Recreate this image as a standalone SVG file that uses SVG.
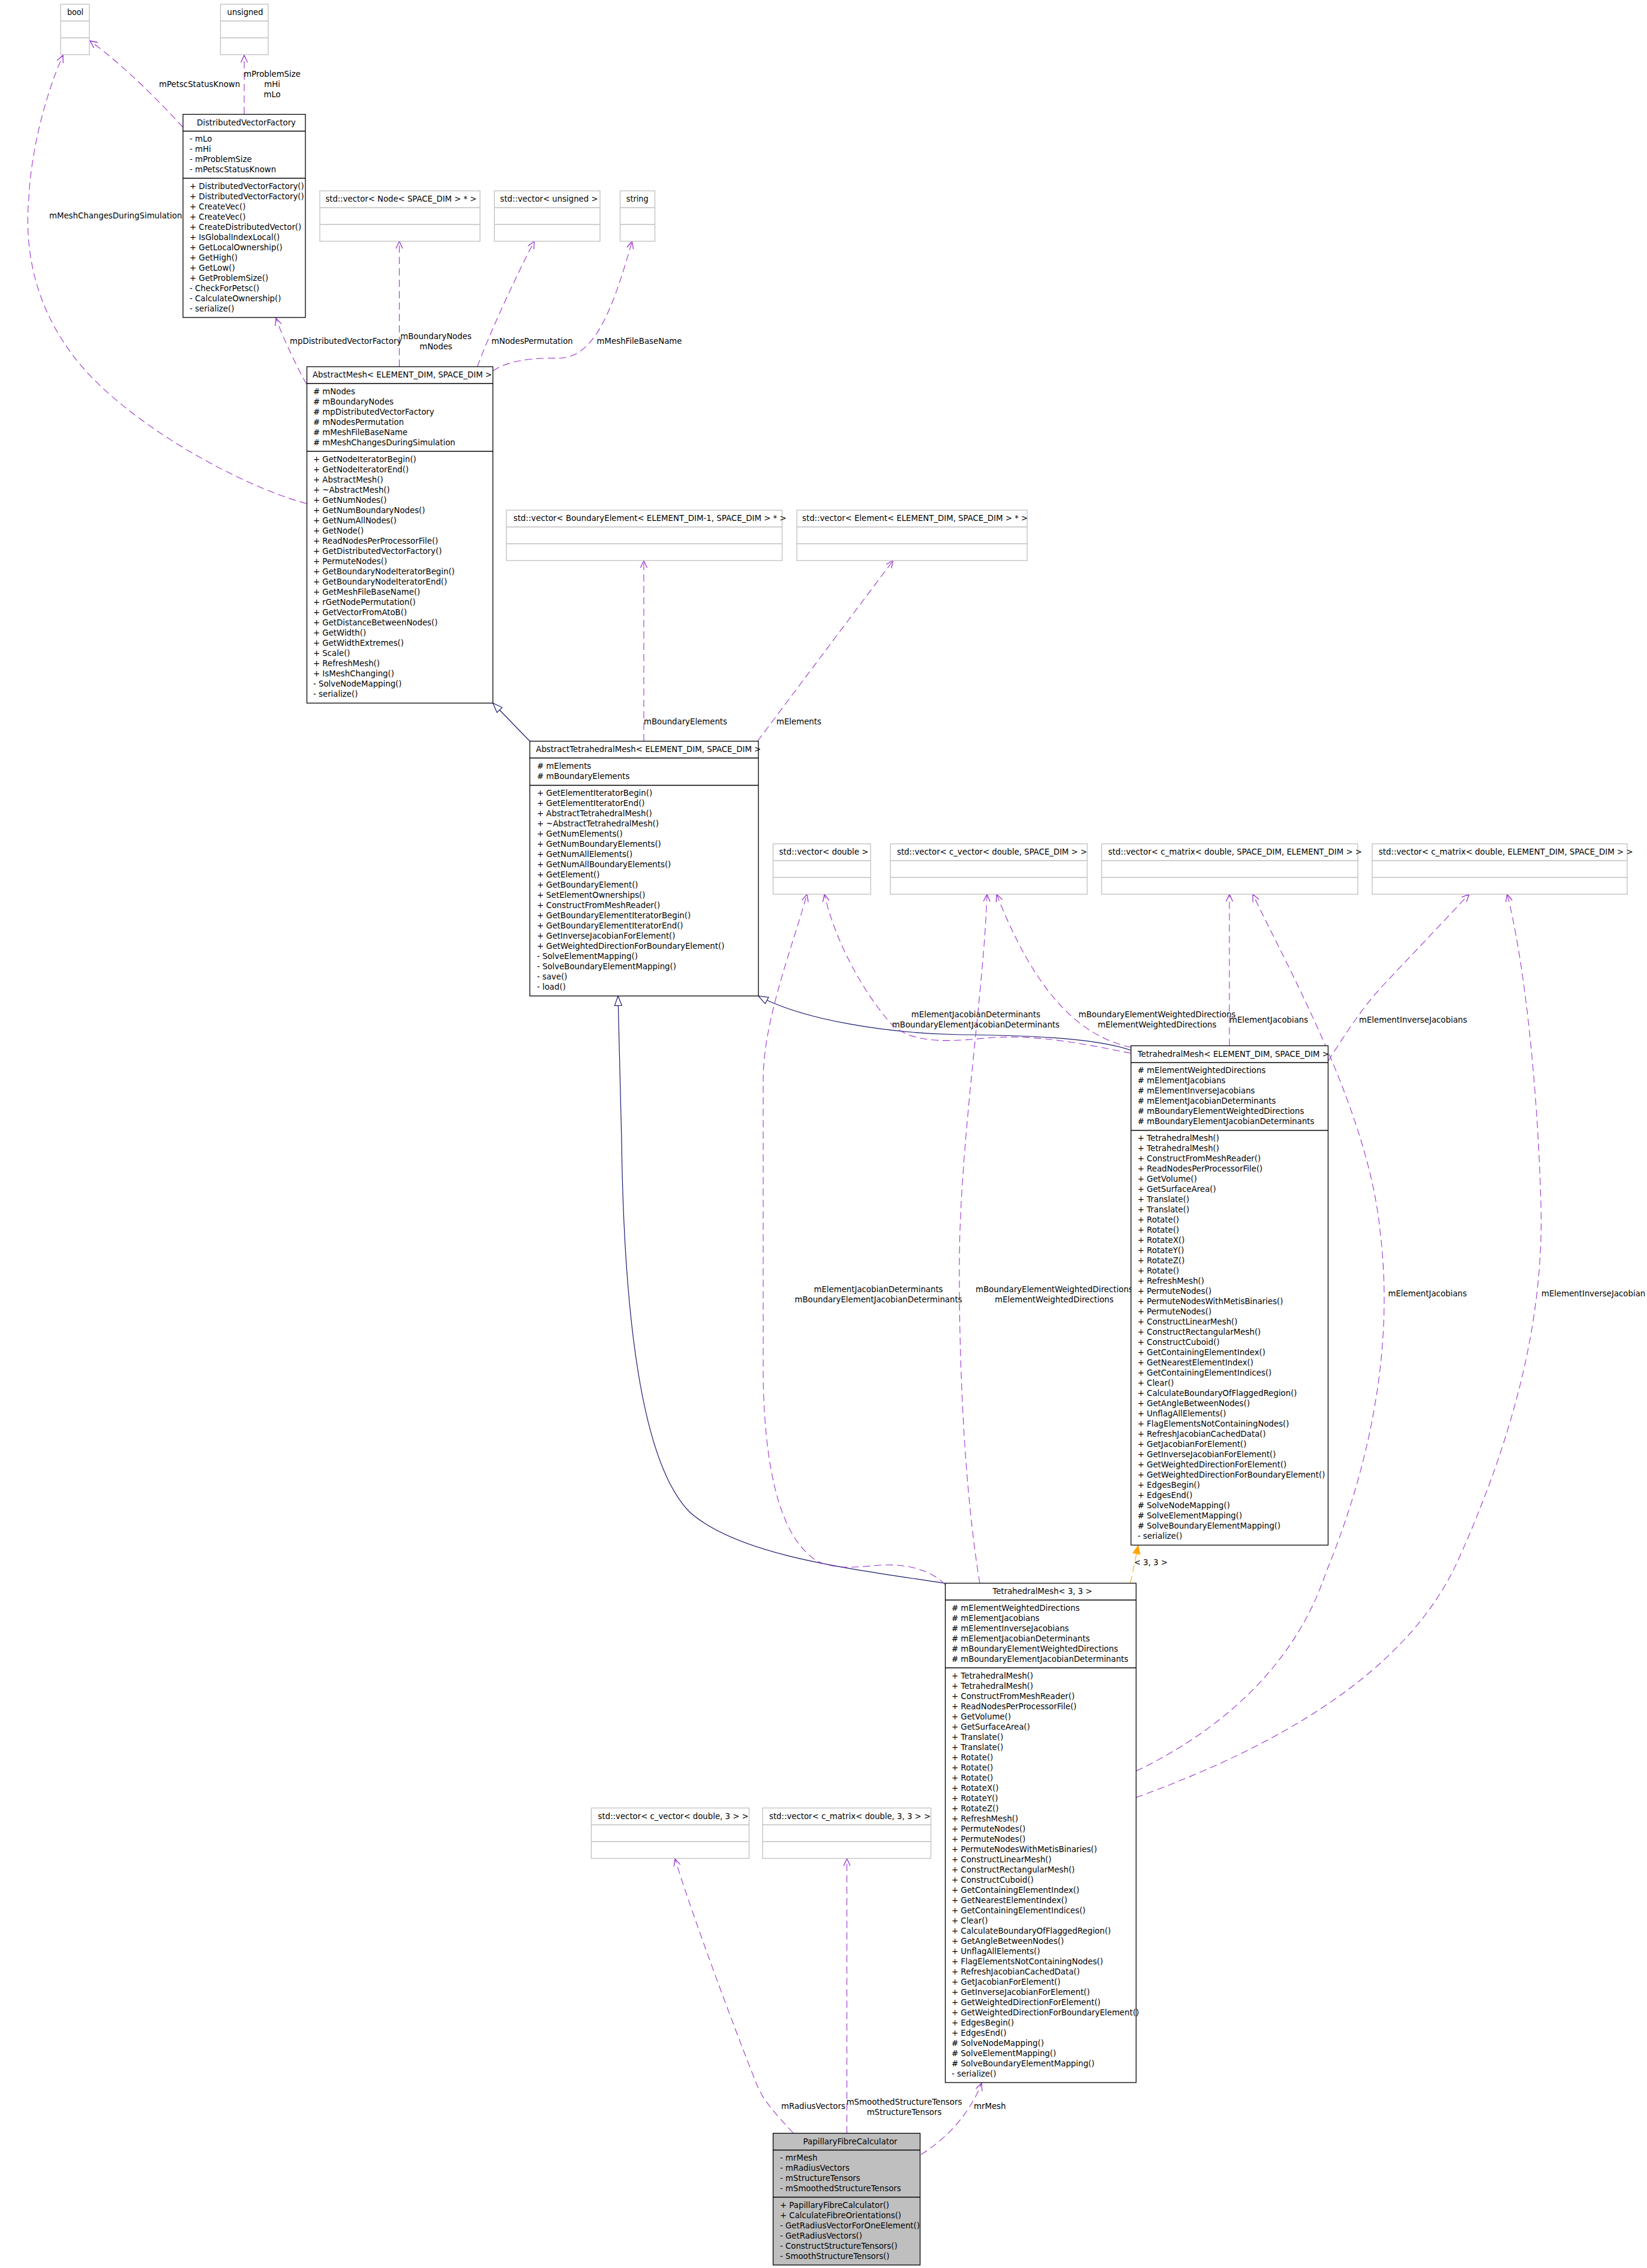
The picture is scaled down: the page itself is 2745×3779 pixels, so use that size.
<svg xmlns="http://www.w3.org/2000/svg" width="2745" height="3779" viewBox="0 0 2745 3779">
<style>
.t{font-family:"DejaVu Sans","Liberation Sans",sans-serif;font-size:13.3px;fill:#000}
.c{text-anchor:middle}
.box{fill:#fff;stroke:#000;stroke-width:1.3}
.gbox{fill:#fff;stroke:#bfbfbf;stroke-width:1.3}
.sep{stroke:#000;stroke-width:1.3}
.gsep{stroke:#bfbfbf;stroke-width:1.3}
.e{fill:none;stroke:#9a32cd;stroke-width:1.1;stroke-dasharray:12,7;marker-end:url(#av)}
.g{fill:none;stroke:#191970;stroke-width:1.2;marker-end:url(#ag)}
.o{fill:none;stroke:#ffa500;stroke-width:1.1;stroke-dasharray:12,7;marker-end:url(#ao)}
.pfc{fill:#bfbfbf;stroke:#000;stroke-width:1.3}
</style>
<defs>
<marker id="av" viewBox="0 0 14 14" refX="13" refY="7" markerWidth="14" markerHeight="14" markerUnits="userSpaceOnUse" orient="auto"><path d="M1,1.5 L13,7 L1,12.5" fill="none" stroke="#9a32cd" stroke-width="1.3"/></marker>
<marker id="ag" viewBox="0 0 18 14" refX="17" refY="7" markerWidth="18" markerHeight="14" markerUnits="userSpaceOnUse" orient="auto"><path d="M1,1 L17,7 L1,13 Z" fill="#fff" stroke="#191970" stroke-width="1.2"/></marker>
<marker id="ao" viewBox="0 0 16 14" refX="15" refY="7" markerWidth="16" markerHeight="14" markerUnits="userSpaceOnUse" orient="auto"><path d="M1,1 L15,7 L1,13 Z" fill="#ffa500" stroke="#ffa500" stroke-width="1"/></marker>
</defs>
<rect width="2745" height="3779" fill="#fff"/>

<g id="connectors">
<path class="e" d="M305,212 C275,180 220,120 150,68"/>
<path class="e" d="M407,190 L407,92"/>
<path class="e" d="M511,839 C400,810 200,700 120,590 C60,510 40,420 48,330 C52,250 75,160 105,92"/>
<path class="e" d="M511,640 C500,622 470,560 460,530"/>
<path class="e" d="M665.5,611 L665.5,402"/>
<path class="e" d="M795.5,611 C820,545 870,440 890.5,402"/>
<path class="e" d="M821.5,618 C850,598 900,596 930,597 C990,597 1020,520 1053.5,402"/>
<path class="e" d="M1073,1235 L1073,934"/>
<path class="e" d="M1262.5,1235 L1488.5,934"/>
<path class="g" d="M883,1235 L821.5,1171.5"/>
<path class="g" d="M1885,1750 C1820,1728 1700,1725 1600,1724 C1480,1722 1340,1700 1264,1659.5"/>
<path class="g" d="M1575,2638 C1400,2612 1230,2590 1150,2520 C1070,2440 1040,2200 1036,1900 L1030,1659.5"/>
<path class="o" d="M1884,2638 L1897,2575"/>
<path class="e" d="M1885,1755 C1800,1738 1720,1722 1640,1730 C1560,1738 1510,1735 1480,1700 C1430,1640 1390,1560 1374,1490"/>
<path class="e" d="M1575,2640 C1550,2615 1510,2605 1466,2608 C1420,2612 1390,2615 1360,2600 C1300,2560 1275,2450 1272,2300 L1272,1800 C1272,1700 1320,1580 1345,1490"/>
<path class="e" d="M1633,2638 C1610,2500 1598,2300 1599,2100 C1600,1900 1640,1650 1645,1490"/>
<path class="e" d="M1885,1745 C1790,1725 1720,1640 1661,1490"/>
<path class="e" d="M2049,1742.5 L2049,1490"/>
<path class="e" d="M1893.5,2951 C2000,2900 2150,2800 2210,2620 C2280,2450 2325,2250 2300,2050 C2280,1850 2150,1620 2088,1490"/>
<path class="e" d="M2213.5,1768 C2235,1735 2265,1685 2304,1643 L2448.5,1490"/>
<path class="e" d="M1893.5,2995 C2100,2920 2340,2800 2430,2600 C2520,2400 2575,2200 2568,2000 C2562,1800 2540,1600 2512,1490"/>
<path class="e" d="M1322,3554 C1295,3525 1272,3500 1262,3475 C1220,3370 1150,3180 1125,3097"/>
<path class="e" d="M1411.5,3554.5 L1411.5,3097"/>
<path class="e" d="M1535,3590 C1575,3565 1615,3525 1636,3471"/>
</g>

<g id="labels">
<text class="t" x="265" y="144.5">mPetscStatusKnown</text>
<text class="t c" x="453.6" y="127.5">mProblemSize<tspan x="453.6" dy="17">mHi</tspan><tspan x="453.6" dy="17">mLo</tspan></text>
<text class="t" x="82" y="363.5">mMeshChangesDuringSimulation</text>
<text class="t" x="483" y="572.5">mpDistributedVectorFactory</text>
<text class="t c" x="726.5" y="565">mBoundaryNodes<tspan x="726.5" dy="17">mNodes</tspan></text>
<text class="t" x="819" y="572.5">mNodesPermutation</text>
<text class="t" x="994.6" y="572.5">mMeshFileBaseName</text>
<text class="t" x="1073" y="1207">mBoundaryElements</text>
<text class="t" x="1294" y="1207">mElements</text>
<text class="t c" x="1626.4" y="1695">mElementJacobianDeterminants<tspan x="1626.4" dy="17">mBoundaryElementJacobianDeterminants</tspan></text>
<text class="t c" x="1928.5" y="1695">mBoundaryElementWeightedDirections<tspan x="1928.5" dy="17">mElementWeightedDirections</tspan></text>
<text class="t" x="2049" y="1704">mElementJacobians</text>
<text class="t" x="2265" y="1704">mElementInverseJacobians</text>
<text class="t c" x="1464" y="2152.5">mElementJacobianDeterminants<tspan x="1464" dy="17">mBoundaryElementJacobianDeterminants</tspan></text>
<text class="t c" x="1757" y="2152.5">mBoundaryElementWeightedDirections<tspan x="1757" dy="17">mElementWeightedDirections</tspan></text>
<text class="t" x="2313.5" y="2160">mElementJacobians</text>
<text class="t" x="2569" y="2160">mElementInverseJacobian</text>
<text class="t" x="1890" y="2608">&lt; 3, 3 &gt;</text>
<text class="t" x="1302" y="3514">mRadiusVectors</text>
<text class="t c" x="1507" y="3507">mSmoothedStructureTensors<tspan x="1507" dy="17">mStructureTensors</tspan></text>
<text class="t" x="1623" y="3514">mrMesh</text>
</g>

<g id="node-bool">
<rect class="gbox" x="101" y="7" width="48" height="84"/>
<line class="gsep" x1="101" y1="35" x2="149" y2="35"/><line class="gsep" x1="101" y1="63" x2="149" y2="63"/>
<text class="t" x="112" y="25" textLength="27" lengthAdjust="spacingAndGlyphs">bool</text>
</g>
<g id="node-unsigned">
<rect class="gbox" x="367.5" y="7" width="79.5" height="84"/>
<line class="gsep" x1="367.5" y1="35" x2="447" y2="35"/><line class="gsep" x1="367.5" y1="63" x2="447" y2="63"/>
<text class="t" x="378.6" y="25" textLength="60" lengthAdjust="spacingAndGlyphs">unsigned</text>
</g>
<g id="node-DistributedVectorFactory">
<rect class="box" x="305" y="190.5" width="204" height="338.5"/>
<line class="sep" x1="305" y1="218.5" x2="509" y2="218.5"/><line class="sep" x1="305" y1="297" x2="509" y2="297"/>
<text class="t" x="328" y="208.5" textLength="165" lengthAdjust="spacingAndGlyphs">DistributedVectorFactory</text>
<text class="t" x="316" y="236">- mLo<tspan x="316" dy="17">- mHi</tspan><tspan x="316" dy="17">- mProblemSize</tspan><tspan x="316" dy="17">- mPetscStatusKnown</tspan></text>
<text class="t" x="316" y="314.5">+ DistributedVectorFactory()<tspan x="316" dy="17">+ DistributedVectorFactory()</tspan><tspan x="316" dy="17">+ CreateVec()</tspan><tspan x="316" dy="17">+ CreateVec()</tspan><tspan x="316" dy="17">+ CreateDistributedVector()</tspan><tspan x="316" dy="17">+ IsGlobalIndexLocal()</tspan><tspan x="316" dy="17">+ GetLocalOwnership()</tspan><tspan x="316" dy="17">+ GetHigh()</tspan><tspan x="316" dy="17">+ GetLow()</tspan><tspan x="316" dy="17">+ GetProblemSize()</tspan><tspan x="316" dy="17">- CheckForPetsc()</tspan><tspan x="316" dy="17">- CalculateOwnership()</tspan><tspan x="316" dy="17">- serialize()</tspan></text>
</g>
<g id="node-vector-node">
<rect class="gbox" x="533" y="318" width="267" height="84"/>
<line class="gsep" x1="533" y1="346" x2="800" y2="346"/><line class="gsep" x1="533" y1="374" x2="800" y2="374"/>
<text class="t" x="542.4" y="336" textLength="252" lengthAdjust="spacingAndGlyphs">std::vector&lt; Node&lt; SPACE_DIM &gt; * &gt;</text>
</g>
<g id="node-vector-unsigned">
<rect class="gbox" x="824" y="318" width="176" height="84"/>
<line class="gsep" x1="824" y1="346" x2="1000" y2="346"/><line class="gsep" x1="824" y1="374" x2="1000" y2="374"/>
<text class="t" x="833.5" y="336" textLength="163" lengthAdjust="spacingAndGlyphs">std::vector&lt; unsigned &gt;</text>
</g>
<g id="node-string">
<rect class="gbox" x="1033.5" y="318" width="58" height="84"/>
<line class="gsep" x1="1033.5" y1="346" x2="1091.5" y2="346"/><line class="gsep" x1="1033.5" y1="374" x2="1091.5" y2="374"/>
<text class="t" x="1043.7" y="336" textLength="37" lengthAdjust="spacingAndGlyphs">string</text>
</g>
<g id="node-AbstractMesh">
<rect class="box" x="511.5" y="611" width="310" height="560.5"/>
<line class="sep" x1="511.5" y1="639" x2="821.5" y2="639"/><line class="sep" x1="511.5" y1="752" x2="821.5" y2="752"/>
<text class="t" x="521" y="629" textLength="299" lengthAdjust="spacingAndGlyphs">AbstractMesh&lt; ELEMENT_DIM, SPACE_DIM &gt;</text>
<text class="t" x="522" y="656.5"># mNodes<tspan x="522" dy="17"># mBoundaryNodes</tspan><tspan x="522" dy="17"># mpDistributedVectorFactory</tspan><tspan x="522" dy="17"># mNodesPermutation</tspan><tspan x="522" dy="17"># mMeshFileBaseName</tspan><tspan x="522" dy="17"># mMeshChangesDuringSimulation</tspan></text>
<text class="t" x="522" y="769.5">+ GetNodeIteratorBegin()<tspan x="522" dy="17">+ GetNodeIteratorEnd()</tspan><tspan x="522" dy="17">+ AbstractMesh()</tspan><tspan x="522" dy="17">+ ~AbstractMesh()</tspan><tspan x="522" dy="17">+ GetNumNodes()</tspan><tspan x="522" dy="17">+ GetNumBoundaryNodes()</tspan><tspan x="522" dy="17">+ GetNumAllNodes()</tspan><tspan x="522" dy="17">+ GetNode()</tspan><tspan x="522" dy="17">+ ReadNodesPerProcessorFile()</tspan><tspan x="522" dy="17">+ GetDistributedVectorFactory()</tspan><tspan x="522" dy="17">+ PermuteNodes()</tspan><tspan x="522" dy="17">+ GetBoundaryNodeIteratorBegin()</tspan><tspan x="522" dy="17">+ GetBoundaryNodeIteratorEnd()</tspan><tspan x="522" dy="17">+ GetMeshFileBaseName()</tspan><tspan x="522" dy="17">+ rGetNodePermutation()</tspan><tspan x="522" dy="17">+ GetVectorFromAtoB()</tspan><tspan x="522" dy="17">+ GetDistanceBetweenNodes()</tspan><tspan x="522" dy="17">+ GetWidth()</tspan><tspan x="522" dy="17">+ GetWidthExtremes()</tspan><tspan x="522" dy="17">+ Scale()</tspan><tspan x="522" dy="17">+ RefreshMesh()</tspan><tspan x="522" dy="17">+ IsMeshChanging()</tspan><tspan x="522" dy="17">- SolveNodeMapping()</tspan><tspan x="522" dy="17">- serialize()</tspan></text>
</g>
<g id="node-vector-boundaryelement">
<rect class="gbox" x="844" y="850" width="459.5" height="84"/>
<line class="gsep" x1="844" y1="878" x2="1303.5" y2="878"/><line class="gsep" x1="844" y1="906" x2="1303.5" y2="906"/>
<text class="t" x="855.7" y="868" textLength="455" lengthAdjust="spacingAndGlyphs">std::vector&lt; BoundaryElement&lt; ELEMENT_DIM-1, SPACE_DIM &gt; * &gt;</text>
</g>
<g id="node-vector-element">
<rect class="gbox" x="1328" y="850" width="384" height="84"/>
<line class="gsep" x1="1328" y1="878" x2="1712" y2="878"/><line class="gsep" x1="1328" y1="906" x2="1712" y2="906"/>
<text class="t" x="1337" y="868" textLength="376" lengthAdjust="spacingAndGlyphs">std::vector&lt; Element&lt; ELEMENT_DIM, SPACE_DIM &gt; * &gt;</text>
</g>
<g id="node-AbstractTetrahedralMesh">
<rect class="box" x="883" y="1235" width="381" height="424.5"/>
<line class="sep" x1="883" y1="1263" x2="1264" y2="1263"/><line class="sep" x1="883" y1="1308.5" x2="1264" y2="1308.5"/>
<text class="t" x="893.3" y="1253" textLength="375" lengthAdjust="spacingAndGlyphs">AbstractTetrahedralMesh&lt; ELEMENT_DIM, SPACE_DIM &gt;</text>
<text class="t" x="895" y="1280.5"># mElements<tspan x="895" dy="17"># mBoundaryElements</tspan></text>
<text class="t" x="895" y="1326">+ GetElementIteratorBegin()<tspan x="895" dy="17">+ GetElementIteratorEnd()</tspan><tspan x="895" dy="17">+ AbstractTetrahedralMesh()</tspan><tspan x="895" dy="17">+ ~AbstractTetrahedralMesh()</tspan><tspan x="895" dy="17">+ GetNumElements()</tspan><tspan x="895" dy="17">+ GetNumBoundaryElements()</tspan><tspan x="895" dy="17">+ GetNumAllElements()</tspan><tspan x="895" dy="17">+ GetNumAllBoundaryElements()</tspan><tspan x="895" dy="17">+ GetElement()</tspan><tspan x="895" dy="17">+ GetBoundaryElement()</tspan><tspan x="895" dy="17">+ SetElementOwnerships()</tspan><tspan x="895" dy="17">+ ConstructFromMeshReader()</tspan><tspan x="895" dy="17">+ GetBoundaryElementIteratorBegin()</tspan><tspan x="895" dy="17">+ GetBoundaryElementIteratorEnd()</tspan><tspan x="895" dy="17">+ GetInverseJacobianForElement()</tspan><tspan x="895" dy="17">+ GetWeightedDirectionForBoundaryElement()</tspan><tspan x="895" dy="17">- SolveElementMapping()</tspan><tspan x="895" dy="17">- SolveBoundaryElementMapping()</tspan><tspan x="895" dy="17">- save()</tspan><tspan x="895" dy="17">- load()</tspan></text>
</g>
<g id="node-vector-double">
<rect class="gbox" x="1288.5" y="1406" width="162.5" height="84"/>
<line class="gsep" x1="1288.5" y1="1434" x2="1451" y2="1434"/><line class="gsep" x1="1288.5" y1="1462" x2="1451" y2="1462"/>
<text class="t" x="1298.6" y="1424" textLength="149" lengthAdjust="spacingAndGlyphs">std::vector&lt; double &gt;</text>
</g>
<g id="node-vector-cvector">
<rect class="gbox" x="1484" y="1406" width="328" height="84"/>
<line class="gsep" x1="1484" y1="1434" x2="1812" y2="1434"/><line class="gsep" x1="1484" y1="1462" x2="1812" y2="1462"/>
<text class="t" x="1495" y="1424" textLength="317" lengthAdjust="spacingAndGlyphs">std::vector&lt; c_vector&lt; double, SPACE_DIM &gt; &gt;</text>
</g>
<g id="node-vector-cmatrix-se">
<rect class="gbox" x="1836" y="1406" width="427" height="84"/>
<line class="gsep" x1="1836" y1="1434" x2="2263" y2="1434"/><line class="gsep" x1="1836" y1="1462" x2="2263" y2="1462"/>
<text class="t" x="1847" y="1424" textLength="423" lengthAdjust="spacingAndGlyphs">std::vector&lt; c_matrix&lt; double, SPACE_DIM, ELEMENT_DIM &gt; &gt;</text>
</g>
<g id="node-vector-cmatrix-es">
<rect class="gbox" x="2287" y="1406" width="425" height="84"/>
<line class="gsep" x1="2287" y1="1434" x2="2712" y2="1434"/><line class="gsep" x1="2287" y1="1462" x2="2712" y2="1462"/>
<text class="t" x="2297.7" y="1424" textLength="424" lengthAdjust="spacingAndGlyphs">std::vector&lt; c_matrix&lt; double, ELEMENT_DIM, SPACE_DIM &gt; &gt;</text>
</g>
<g id="node-TetrahedralMesh-template">
<rect class="box" x="1885" y="1742.5" width="328.5" height="832"/>
<line class="sep" x1="1885" y1="1770.5" x2="2213.5" y2="1770.5"/><line class="sep" x1="1885" y1="1883.5" x2="2213.5" y2="1883.5"/>
<text class="t" x="1896" y="1760.5" textLength="319" lengthAdjust="spacingAndGlyphs">TetrahedralMesh&lt; ELEMENT_DIM, SPACE_DIM &gt;</text>
<text class="t" x="1896" y="1788"># mElementWeightedDirections<tspan x="1896" dy="17"># mElementJacobians</tspan><tspan x="1896" dy="17"># mElementInverseJacobians</tspan><tspan x="1896" dy="17"># mElementJacobianDeterminants</tspan><tspan x="1896" dy="17"># mBoundaryElementWeightedDirections</tspan><tspan x="1896" dy="17"># mBoundaryElementJacobianDeterminants</tspan></text>
<text class="t" x="1896" y="1901">+ TetrahedralMesh()<tspan x="1896" dy="17">+ TetrahedralMesh()</tspan><tspan x="1896" dy="17">+ ConstructFromMeshReader()</tspan><tspan x="1896" dy="17">+ ReadNodesPerProcessorFile()</tspan><tspan x="1896" dy="17">+ GetVolume()</tspan><tspan x="1896" dy="17">+ GetSurfaceArea()</tspan><tspan x="1896" dy="17">+ Translate()</tspan><tspan x="1896" dy="17">+ Translate()</tspan><tspan x="1896" dy="17">+ Rotate()</tspan><tspan x="1896" dy="17">+ Rotate()</tspan><tspan x="1896" dy="17">+ RotateX()</tspan><tspan x="1896" dy="17">+ RotateY()</tspan><tspan x="1896" dy="17">+ RotateZ()</tspan><tspan x="1896" dy="17">+ Rotate()</tspan><tspan x="1896" dy="17">+ RefreshMesh()</tspan><tspan x="1896" dy="17">+ PermuteNodes()</tspan><tspan x="1896" dy="17">+ PermuteNodesWithMetisBinaries()</tspan><tspan x="1896" dy="17">+ PermuteNodes()</tspan><tspan x="1896" dy="17">+ ConstructLinearMesh()</tspan><tspan x="1896" dy="17">+ ConstructRectangularMesh()</tspan><tspan x="1896" dy="17">+ ConstructCuboid()</tspan><tspan x="1896" dy="17">+ GetContainingElementIndex()</tspan><tspan x="1896" dy="17">+ GetNearestElementIndex()</tspan><tspan x="1896" dy="17">+ GetContainingElementIndices()</tspan><tspan x="1896" dy="17">+ Clear()</tspan><tspan x="1896" dy="17">+ CalculateBoundaryOfFlaggedRegion()</tspan><tspan x="1896" dy="17">+ GetAngleBetweenNodes()</tspan><tspan x="1896" dy="17">+ UnflagAllElements()</tspan><tspan x="1896" dy="17">+ FlagElementsNotContainingNodes()</tspan><tspan x="1896" dy="17">+ RefreshJacobianCachedData()</tspan><tspan x="1896" dy="17">+ GetJacobianForElement()</tspan><tspan x="1896" dy="17">+ GetInverseJacobianForElement()</tspan><tspan x="1896" dy="17">+ GetWeightedDirectionForElement()</tspan><tspan x="1896" dy="17">+ GetWeightedDirectionForBoundaryElement()</tspan><tspan x="1896" dy="17">+ EdgesBegin()</tspan><tspan x="1896" dy="17">+ EdgesEnd()</tspan><tspan x="1896" dy="17"># SolveNodeMapping()</tspan><tspan x="1896" dy="17"># SolveElementMapping()</tspan><tspan x="1896" dy="17"># SolveBoundaryElementMapping()</tspan><tspan x="1896" dy="17">- serialize()</tspan></text>
</g>
<g id="node-TetrahedralMesh-3-3">
<rect class="box" x="1575.5" y="2638" width="318" height="832"/>
<line class="sep" x1="1575.5" y1="2666" x2="1893.5" y2="2666"/><line class="sep" x1="1575.5" y1="2779" x2="1893.5" y2="2779"/>
<text class="t" x="1654.3" y="2656" textLength="166" lengthAdjust="spacingAndGlyphs">TetrahedralMesh&lt; 3, 3 &gt;</text>
<text class="t" x="1586" y="2683.5"># mElementWeightedDirections<tspan x="1586" dy="17"># mElementJacobians</tspan><tspan x="1586" dy="17"># mElementInverseJacobians</tspan><tspan x="1586" dy="17"># mElementJacobianDeterminants</tspan><tspan x="1586" dy="17"># mBoundaryElementWeightedDirections</tspan><tspan x="1586" dy="17"># mBoundaryElementJacobianDeterminants</tspan></text>
<text class="t" x="1586" y="2796.5">+ TetrahedralMesh()<tspan x="1586" dy="17">+ TetrahedralMesh()</tspan><tspan x="1586" dy="17">+ ConstructFromMeshReader()</tspan><tspan x="1586" dy="17">+ ReadNodesPerProcessorFile()</tspan><tspan x="1586" dy="17">+ GetVolume()</tspan><tspan x="1586" dy="17">+ GetSurfaceArea()</tspan><tspan x="1586" dy="17">+ Translate()</tspan><tspan x="1586" dy="17">+ Translate()</tspan><tspan x="1586" dy="17">+ Rotate()</tspan><tspan x="1586" dy="17">+ Rotate()</tspan><tspan x="1586" dy="17">+ Rotate()</tspan><tspan x="1586" dy="17">+ RotateX()</tspan><tspan x="1586" dy="17">+ RotateY()</tspan><tspan x="1586" dy="17">+ RotateZ()</tspan><tspan x="1586" dy="17">+ RefreshMesh()</tspan><tspan x="1586" dy="17">+ PermuteNodes()</tspan><tspan x="1586" dy="17">+ PermuteNodes()</tspan><tspan x="1586" dy="17">+ PermuteNodesWithMetisBinaries()</tspan><tspan x="1586" dy="17">+ ConstructLinearMesh()</tspan><tspan x="1586" dy="17">+ ConstructRectangularMesh()</tspan><tspan x="1586" dy="17">+ ConstructCuboid()</tspan><tspan x="1586" dy="17">+ GetContainingElementIndex()</tspan><tspan x="1586" dy="17">+ GetNearestElementIndex()</tspan><tspan x="1586" dy="17">+ GetContainingElementIndices()</tspan><tspan x="1586" dy="17">+ Clear()</tspan><tspan x="1586" dy="17">+ CalculateBoundaryOfFlaggedRegion()</tspan><tspan x="1586" dy="17">+ GetAngleBetweenNodes()</tspan><tspan x="1586" dy="17">+ UnflagAllElements()</tspan><tspan x="1586" dy="17">+ FlagElementsNotContainingNodes()</tspan><tspan x="1586" dy="17">+ RefreshJacobianCachedData()</tspan><tspan x="1586" dy="17">+ GetJacobianForElement()</tspan><tspan x="1586" dy="17">+ GetInverseJacobianForElement()</tspan><tspan x="1586" dy="17">+ GetWeightedDirectionForElement()</tspan><tspan x="1586" dy="17">+ GetWeightedDirectionForBoundaryElement()</tspan><tspan x="1586" dy="17">+ EdgesBegin()</tspan><tspan x="1586" dy="17">+ EdgesEnd()</tspan><tspan x="1586" dy="17"># SolveNodeMapping()</tspan><tspan x="1586" dy="17"># SolveElementMapping()</tspan><tspan x="1586" dy="17"># SolveBoundaryElementMapping()</tspan><tspan x="1586" dy="17">- serialize()</tspan></text>
</g>
<g id="node-vector-cvector3">
<rect class="gbox" x="985.5" y="3012.5" width="263" height="84"/>
<line class="gsep" x1="985.5" y1="3040.5" x2="1248.5" y2="3040.5"/><line class="gsep" x1="985.5" y1="3068.5" x2="1248.5" y2="3068.5"/>
<text class="t" x="996.6" y="3030.5" textLength="251" lengthAdjust="spacingAndGlyphs">std::vector&lt; c_vector&lt; double, 3 &gt; &gt;</text>
</g>
<g id="node-vector-cmatrix33">
<rect class="gbox" x="1271" y="3012.5" width="280.5" height="84"/>
<line class="gsep" x1="1271" y1="3040.5" x2="1551.5" y2="3040.5"/><line class="gsep" x1="1271" y1="3068.5" x2="1551.5" y2="3068.5"/>
<text class="t" x="1282" y="3030.5" textLength="269" lengthAdjust="spacingAndGlyphs">std::vector&lt; c_matrix&lt; double, 3, 3 &gt; &gt;</text>
</g>
<g id="node-PapillaryFibreCalculator">
<rect class="pfc" x="1288.5" y="3554.5" width="245" height="219.5"/>
<line class="sep" x1="1288.5" y1="3582.5" x2="1533.5" y2="3582.5"/><line class="sep" x1="1288.5" y1="3661" x2="1533.5" y2="3661"/>
<text class="t" x="1338.6" y="3572.5" textLength="157" lengthAdjust="spacingAndGlyphs">PapillaryFibreCalculator</text>
<text class="t" x="1300" y="3600">- mrMesh<tspan x="1300" dy="17">- mRadiusVectors</tspan><tspan x="1300" dy="17">- mStructureTensors</tspan><tspan x="1300" dy="17">- mSmoothedStructureTensors</tspan></text>
<text class="t" x="1300" y="3678.5">+ PapillaryFibreCalculator()<tspan x="1300" dy="17">+ CalculateFibreOrientations()</tspan><tspan x="1300" dy="17">- GetRadiusVectorForOneElement()</tspan><tspan x="1300" dy="17">- GetRadiusVectors()</tspan><tspan x="1300" dy="17">- ConstructStructureTensors()</tspan><tspan x="1300" dy="17">- SmoothStructureTensors()</tspan></text>
</g>
</svg>
